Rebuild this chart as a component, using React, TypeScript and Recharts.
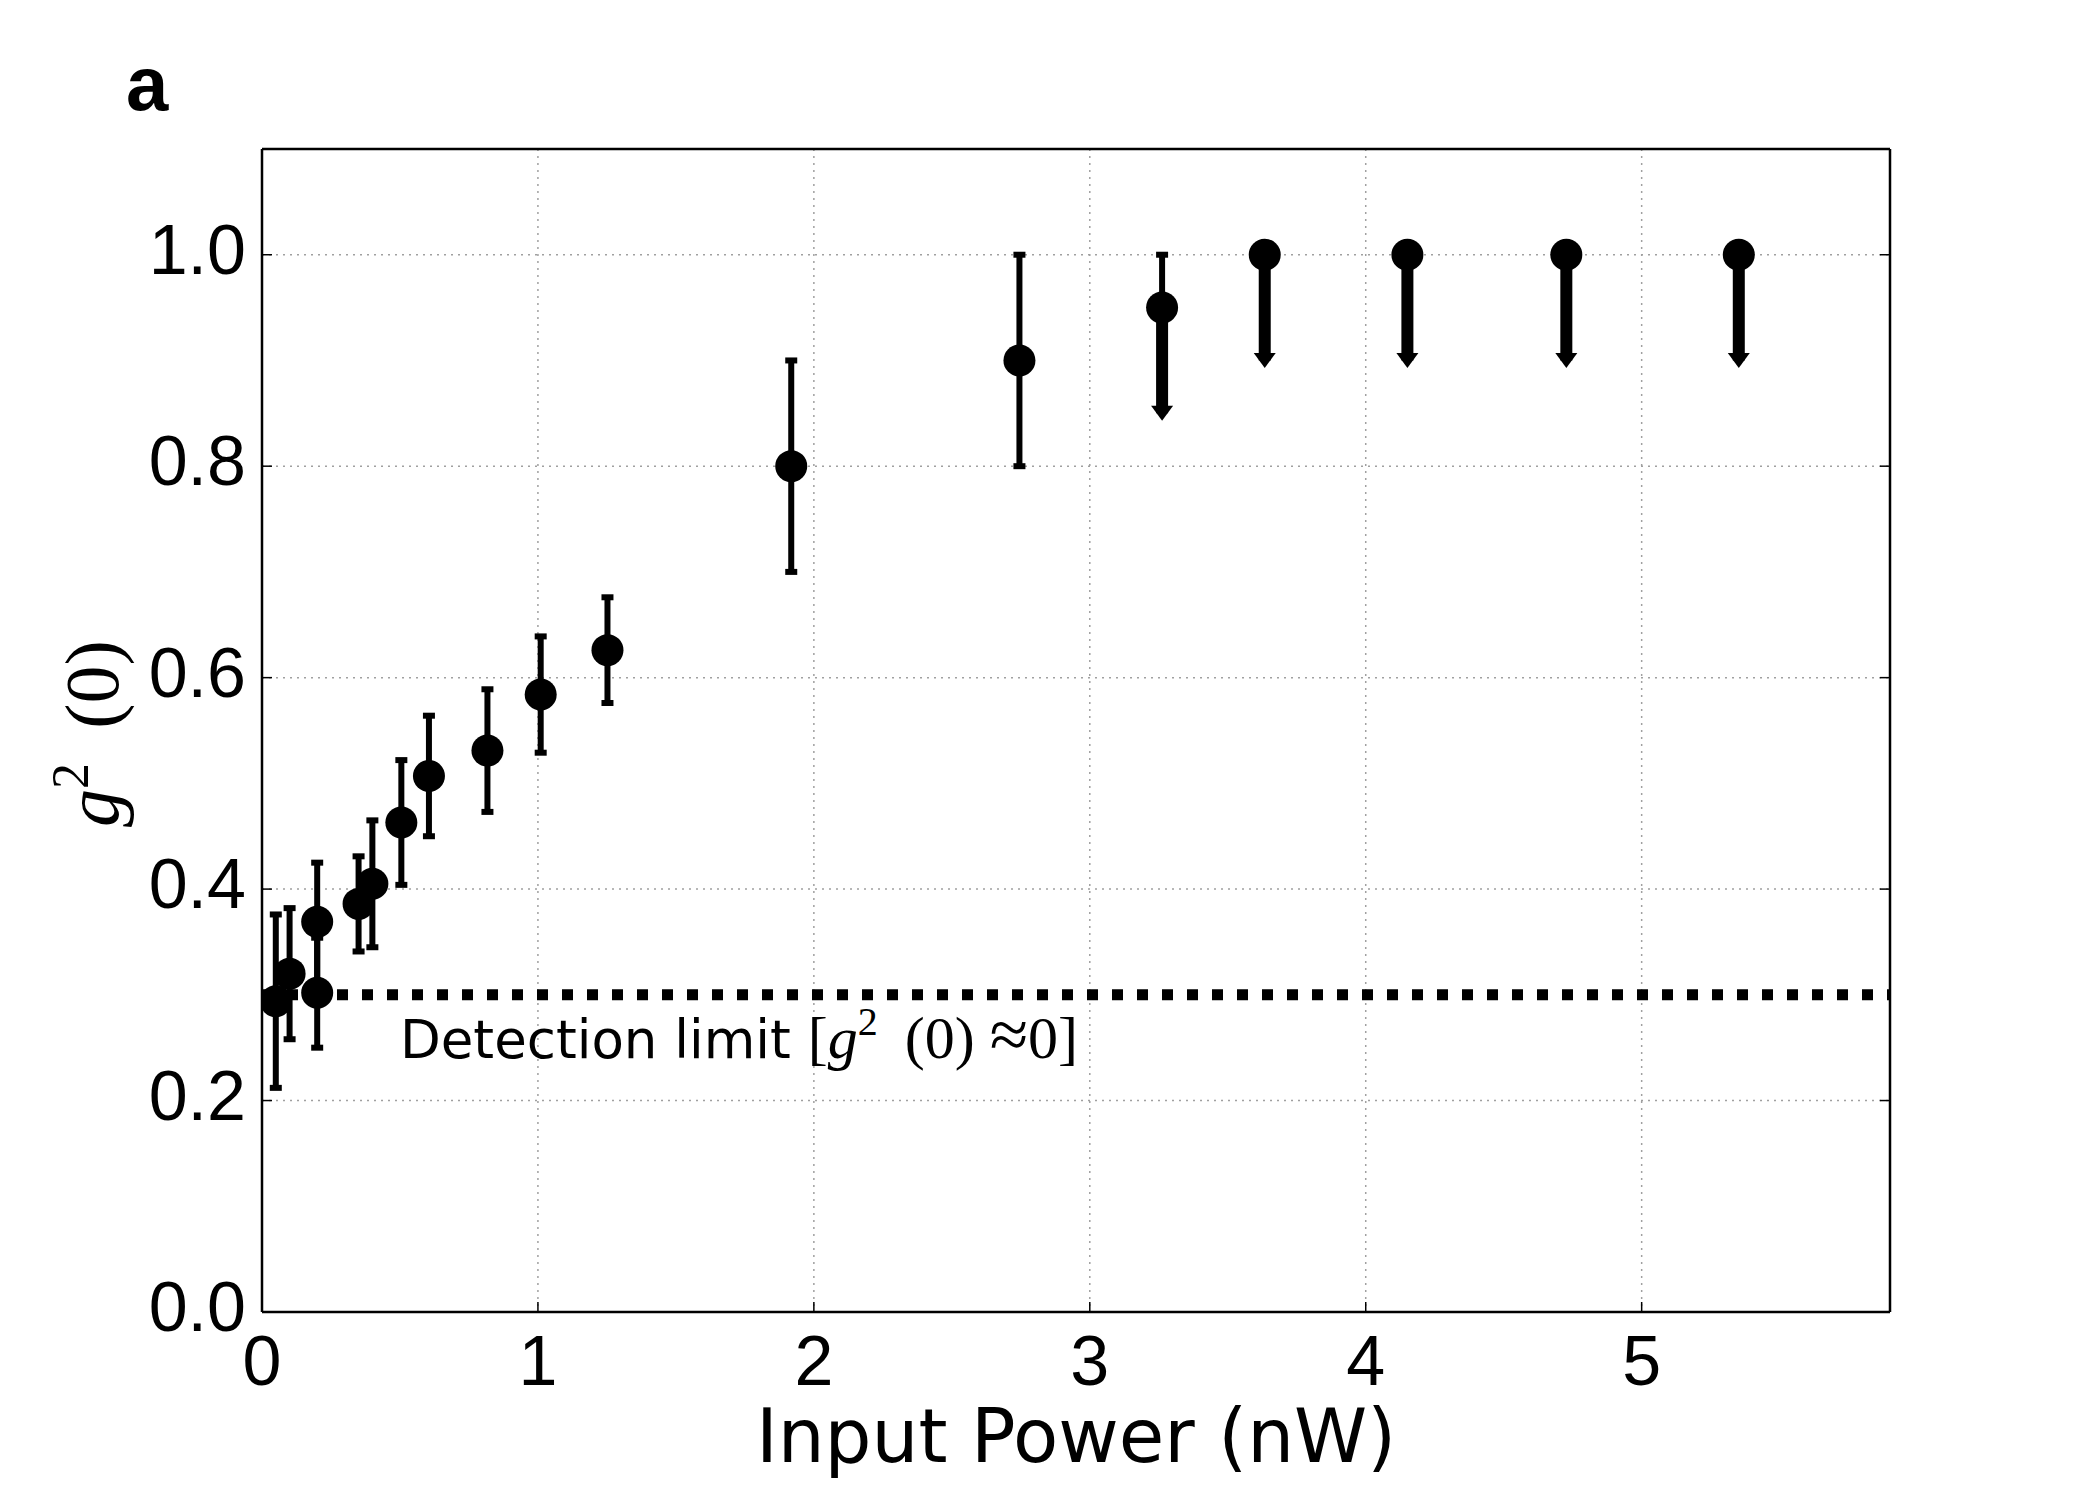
import React from 'react'
import {
  ScatterChart,
  Scatter,
  XAxis,
  YAxis,
  CartesianGrid,
  ErrorBar,
  ReferenceLine,
  ReferenceDot,
} from 'recharts'

// measured g2(0) vs input power, symmetric error bars
const power = [0.05, 0.1, 0.2, 0.2, 0.35, 0.4, 0.505, 0.605, 0.817, 1.01, 1.252, 1.918, 2.745]
const g2 = [0.294, 0.32, 0.369, 0.302, 0.386, 0.405, 0.463, 0.507, 0.531, 0.584, 0.626, 0.8, 0.9]
const g2Err = [0.082, 0.062, 0.056, 0.052, 0.045, 0.06, 0.059, 0.057, 0.058, 0.055, 0.05, 0.1, 0.1]

// high-power points, drawn as upper limits (arrows)
const limitPower = [3.262, 3.634, 4.151, 4.727, 5.352]
const limitG2 = [0.95, 1.0, 1.0, 1.0, 1.0]
const limitErrUp = [0.05, 0, 0, 0, 0]
const limitErrDown = [0.1, 0.1, 0.1, 0.1, 0.1]

const detectionLimit = 0.3
const xTicks = [0, 1, 2, 3, 4, 5]
const yTicks = [0, 0.2, 0.4, 0.6, 0.8, 1.0]
const X_MAX = 5.9
const Y_MAX = 1.1

const measured = power.map((x, i) => ({ x, y: g2[i], err: g2Err[i] }))
const limits = limitPower.map((x, i) => ({
  x,
  y: limitG2[i],
  up: [0, limitErrUp[i]],
  down: [limitErrDown[i], 0],
}))
const arrowTips = limitPower.map((x, i) => ({ x, y: limitG2[i] - limitErrDown[i] }))

const TICK_LEN = 10
const SANS = 'Liberation Sans, Arial, sans-serif'
const DEJAVU = 'DejaVu Sans, sans-serif'
const SERIF = 'Liberation Serif, Times New Roman, serif'

const Dot = (props: any) => <circle cx={props.cx} cy={props.cy} r={16} fill="#000" />

const ArrowHead = (props: any) => {
  const { cx, cy } = props
  return <polygon points={`${cx - 11},${cy - 7.5} ${cx + 11},${cy - 7.5} ${cx},${cy + 7.5}`} fill="#000" />
}

const BottomTick = ({ x, y, payload }: any) => (
  <g>
    <line x1={x} y1={y} x2={x} y2={y - TICK_LEN} stroke="#000" strokeWidth={1.5} />
    <text x={x} y={y + 73} textAnchor="middle" fontSize={70} fontFamily={SANS} fill="#000">
      {payload.value}
    </text>
  </g>
)

const LeftTick = ({ x, y, payload }: any) => (
  <g>
    <line x1={x} y1={y} x2={x + TICK_LEN} y2={y} stroke="#000" strokeWidth={1.5} />
    <text x={x - 16} y={y + 19} textAnchor="end" fontSize={70} fontFamily={SANS} fill="#000">
      {Number(payload.value).toFixed(1)}
    </text>
  </g>
)

const TopTick = ({ x, y }: any) => (
  <line x1={x} y1={y} x2={x} y2={y + TICK_LEN} stroke="#000" strokeWidth={1.5} />
)

const RightTick = ({ x, y }: any) => (
  <line x1={x} y1={y} x2={x - TICK_LEN} y2={y} stroke="#000" strokeWidth={1.5} />
)

const YLabel = (props: any) => {
  const vb = props.viewBox
  const cx = vb.x + 6
  const cy = vb.y + vb.height / 2 + 3
  return (
    <text
      x={cx}
      y={cy}
      transform={`rotate(-90, ${cx}, ${cy})`}
      textAnchor="middle"
      fontSize={76}
      fontFamily={SERIF}
      fill="#000"
    >
      <tspan fontStyle="italic">g</tspan>
      <tspan dy={-30} fontSize={52}>2</tspan>
      <tspan dy={30}>{' \u2009(0)'}</tspan>
    </text>
  )
}

const XLabel = (props: any) => {
  const vb = props.viewBox
  return (
    <text x={vb.x + vb.width / 2} y={1462} textAnchor="middle" fontSize={74} fontFamily={DEJAVU} fill="#000">
      Input Power (nW)
    </text>
  )
}

const DetectionText = (props: any) => {
  const vb = props.viewBox
  return (
    <text x={vb.x} y={vb.y} fontSize={53} fontFamily={DEJAVU} fill="#000">
      Detection limit{' '}
      <tspan fontFamily={SERIF} fontSize={60}>
        [<tspan fontStyle="italic">g</tspan>
        <tspan dy={-23} fontSize={40}>2</tspan>
        <tspan dy={23}>{' \u2009(0) '}</tspan>
        <tspan fontSize={70}>{'\u2248'}</tspan>
        {'0]'}
      </tspan>
    </text>
  )
}

export default function App() {
  return (
    <div style={{ position: 'absolute', left: 0, top: 0, width: 2100, height: 1500, background: '#fff' }}>
      <ScatterChart width={2100} height={1500} margin={{ top: 148, right: 209, bottom: 88, left: 112 }}>
        <CartesianGrid stroke="#a0a0a0" strokeWidth={1.5} strokeDasharray="2 5" />
        <XAxis
          type="number"
          dataKey="x"
          domain={[0, X_MAX]}
          ticks={xTicks}
          height={100}
          tickSize={0}
          tickMargin={0}
          tick={BottomTick}
          tickLine={false}
          axisLine={{ stroke: '#000', strokeWidth: 2.5 }}
          label={XLabel}
          allowDataOverflow
        />
        <XAxis
          xAxisId="top"
          orientation="top"
          type="number"
          domain={[0, X_MAX]}
          ticks={xTicks}
          height={1}
          tickSize={0}
          tickMargin={0}
          tick={TopTick}
          tickLine={false}
          axisLine={{ stroke: '#000', strokeWidth: 2.5 }}
          allowDataOverflow
        />
        <YAxis
          type="number"
          dataKey="y"
          domain={[0, Y_MAX]}
          ticks={yTicks}
          width={150}
          tickSize={0}
          tickMargin={0}
          tick={LeftTick}
          tickLine={false}
          axisLine={{ stroke: '#000', strokeWidth: 2.5 }}
          label={YLabel}
          allowDataOverflow
        />
        <YAxis
          yAxisId="right"
          orientation="right"
          type="number"
          domain={[0, Y_MAX]}
          ticks={yTicks}
          width={1}
          tickSize={0}
          tickMargin={0}
          tick={RightTick}
          tickLine={false}
          axisLine={{ stroke: '#000', strokeWidth: 2.5 }}
          allowDataOverflow
        />
        <ReferenceLine
          y={detectionLimit}
          stroke="#000"
          strokeWidth={11}
          strokeDasharray="11 14"
        />
        <ReferenceDot x={0.5} y={0.24} r={0} fill="none" stroke="none" label={DetectionText} />
        <Scatter data={measured} shape={Dot} isAnimationActive={false}>
          <ErrorBar dataKey="err" direction="y" width={6} strokeWidth={6} stroke="#000" isAnimationActive={false} />
        </Scatter>
        <Scatter data={limits} shape={Dot} isAnimationActive={false}>
          <ErrorBar dataKey="up" direction="y" width={6} strokeWidth={6} stroke="#000" isAnimationActive={false} />
          <ErrorBar dataKey="down" direction="y" width={0} strokeWidth={12} stroke="#000" isAnimationActive={false} />
        </Scatter>
        <Scatter data={arrowTips} shape={ArrowHead} isAnimationActive={false} />
      </ScatterChart>
      <svg width={2100} height={1500} style={{ position: 'absolute', left: 0, top: 0, pointerEvents: 'none' }}>
        <text x={126} y={110} fontSize={76} fontWeight="bold" fontFamily={SANS} fill="#000">
          a
        </text>
      </svg>
    </div>
  )
}
